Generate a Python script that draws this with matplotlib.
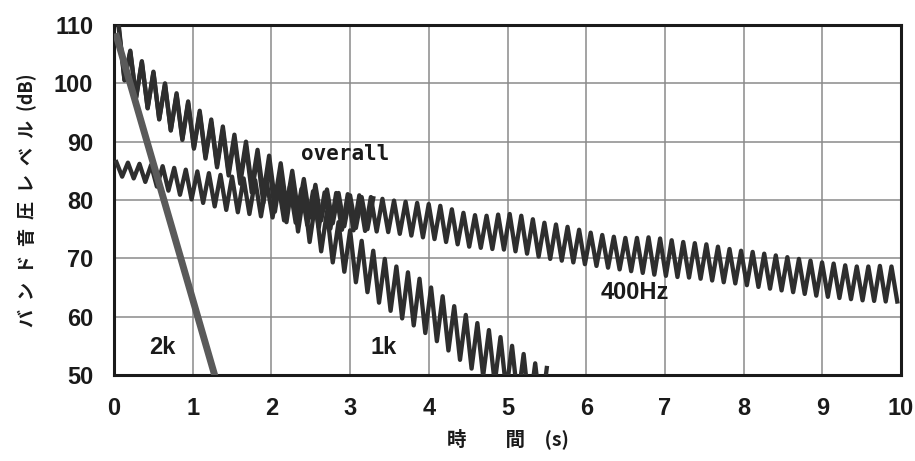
import numpy as np
import matplotlib
matplotlib.use("Agg")
import matplotlib.pyplot as plt

JP = ["Noto Sans CJK JP", "DejaVu Sans"]
NUM = ["Liberation Sans Narrow", "Liberation Sans", "DejaVu Sans"]

# ripple of the decaying band levels (one peak + one trough per period), seconds
ripple_period = 0.147

# 400 Hz band: peak / trough levels (dB), one per ripple cycle
hz400_start = 0.03
hz400_peaks = [
    86.5, 86.4, 86.2, 86.0, 85.8, 85.5, 85.2, 84.9, 84.6, 84.3,
    84.0, 83.7, 83.4, 83.1, 82.7, 82.3, 81.9, 81.5, 81.3, 81.2,
    81.0, 80.8, 80.5, 80.2, 79.9, 79.7, 79.5, 79.3, 79.0, 78.4,
    77.8, 77.4, 77.3, 77.5, 77.6, 77.3, 76.7, 76.1, 75.8, 75.4,
    74.9, 74.4, 74.0, 73.7, 73.5, 73.5, 73.6, 73.4, 73.1, 72.8,
    72.6, 72.4, 72.0, 71.6, 71.3, 71.1, 70.8, 70.5, 70.2, 69.9,
    69.6, 69.3, 69.1, 68.8, 68.6, 68.6, 68.7, 68.6,
]
hz400_troughs = [
    84.0, 83.7, 83.1, 82.3, 81.6, 80.9, 80.1, 79.5, 78.9, 78.3,
    77.9, 77.6, 77.2, 77.0, 76.5, 76.1, 75.7, 75.3, 75.1, 74.9,
    74.8, 74.7, 74.6, 74.5, 74.2, 73.9, 73.6, 73.3, 72.8, 72.4,
    72.0, 71.8, 71.6, 71.5, 71.2, 70.8, 70.3, 69.9, 69.6, 69.3,
    69.0, 68.7, 68.4, 68.1, 67.8, 67.5, 67.2, 67.0, 66.8, 66.7,
    66.5, 66.2, 65.9, 65.7, 65.4, 65.1, 64.8, 64.5, 64.2, 63.9,
    63.6, 63.4, 63.2, 63.0, 62.8, 62.7, 62.6, 62.6,
]

# 1 kHz band
k1_start = 0.06
k1_peaks = [
    109.5, 105.4, 103.6, 101.8, 99.8, 98.0, 96.6, 94.9, 93.3, 92.0,
    90.5, 89.2, 87.5, 86.0, 84.3, 82.9, 81.2, 79.6, 78.0, 76.2,
    74.8, 73.0, 71.3, 69.9, 68.6, 67.6, 66.5, 65.0, 63.5, 61.8,
    60.3, 58.9, 57.7, 56.5, 55.0, 53.6, 52.0, 51.2,
]
k1_troughs = [
    100.5, 97.5, 95.7, 93.8, 91.9, 90.3, 88.8, 87.1, 85.6, 84.2,
    82.8, 81.3, 79.5, 78.0, 76.2, 74.6, 72.8, 71.2, 69.3, 67.7,
    65.9, 64.2, 62.4, 61.0, 59.7, 58.5, 57.2, 55.8, 54.2, 52.6,
    51.1, 49.8, 48.6, 47.3, 45.8, 44.3, 43.1,
]

# overall level (sum of bands) until it settles onto the 400 Hz band
overall_start = 0.06
overall_peaks = [
    110.0, 105.6, 103.8, 102.0, 100.0, 98.3, 96.9, 95.3, 93.8, 92.6,
    91.2, 90.0, 88.6, 87.6, 86.3, 85.0, 83.6, 82.6, 81.8, 81.2,
    80.8, 80.5, 80.3,
]
overall_troughs = [
    100.6, 97.6, 95.8, 93.9, 92.0, 90.5, 89.0, 87.5, 86.0, 84.8,
    83.6, 82.4, 81.0, 80.0, 79.0, 78.0, 77.0, 76.5, 76.0, 75.5,
    75.2, 75.0,
]

# 2 kHz band decays almost linearly
k2_time = [0.02, 1.30]
k2_level = [108.6, 49.0]

labels = ["overall", "400Hz", "1k", "2k"]
label_pos = [(2.94, 87.9), (6.62, 64.2), (3.43, 54.8), (0.62, 54.8)]


def ripple(start, peaks, troughs):
    tp = start + ripple_period * np.arange(len(peaks))
    tt = tp[:len(troughs)] + ripple_period / 2
    t = np.empty(len(tp) + len(tt))
    v = np.empty_like(t)
    t[0::2], v[0::2] = tp, peaks
    t[1::2], v[1::2] = tt, troughs
    return t, v


fig = plt.figure(figsize=(9.15, 4.61), dpi=100)
ax = fig.add_axes([114 / 915, 86 / 461, 787 / 915, 350 / 461])

line_kw = dict(color="#2e2e2e", lw=3.1, solid_joinstyle="round", zorder=3)
ax.plot(*ripple(hz400_start, hz400_peaks, hz400_troughs), **line_kw)
ax.plot(*ripple(k1_start, k1_peaks, k1_troughs), **line_kw)
ax.plot(*ripple(overall_start, overall_peaks, overall_troughs), **line_kw)
ax.plot(k2_time, k2_level, color="#5a5a5a", lw=5, solid_capstyle="butt", zorder=3)

ax.set_xlim(0, 10)
ax.set_ylim(50, 110)
ax.set_xticks(range(0, 11))
ax.set_yticks(range(50, 111, 10))
ax.grid(True, color="#8a8a8a", lw=1.1)
ax.set_axisbelow(True)
ax.tick_params(length=0)
ax.tick_params(axis="y", pad=15)
ax.tick_params(axis="x", pad=16)
for lab in ax.get_xticklabels() + ax.get_yticklabels():
    lab.set_family(NUM)
    lab.set_fontsize(17)
    lab.set_fontweight("bold")
    lab.set_color("#1a1a1a")
for sp in ax.spines.values():
    sp.set_linewidth(2.2)
    sp.set_color("#1a1a1a")

for text, (x, y) in zip(labels, label_pos):
    if text == "overall":
        ax.text(x, y, text, family=["DejaVu Sans Mono"], fontsize=15,
                fontweight="bold", ha="center", va="center",
                color="#1a1a1a", zorder=4)
    else:
        ax.text(x, y, text, family=NUM, fontsize=17, fontweight="bold",
                ha="center", va="center", color="#1a1a1a", zorder=4)

ax.set_ylabel("バ\u2002ン\u2002ド\u2002音\u2002圧\u2002レ\u2002ベ\u2002ル\u2002(dB)",
              family=JP, fontsize=13, fontweight="bold", labelpad=12,
              color="#1a1a1a")
ax.set_xlabel("時\u3000\u3000間\u3000(s)", family=JP, fontsize=14,
              fontweight="bold", labelpad=6, color="#1a1a1a")

fig.savefig("out.png", dpi=100)
